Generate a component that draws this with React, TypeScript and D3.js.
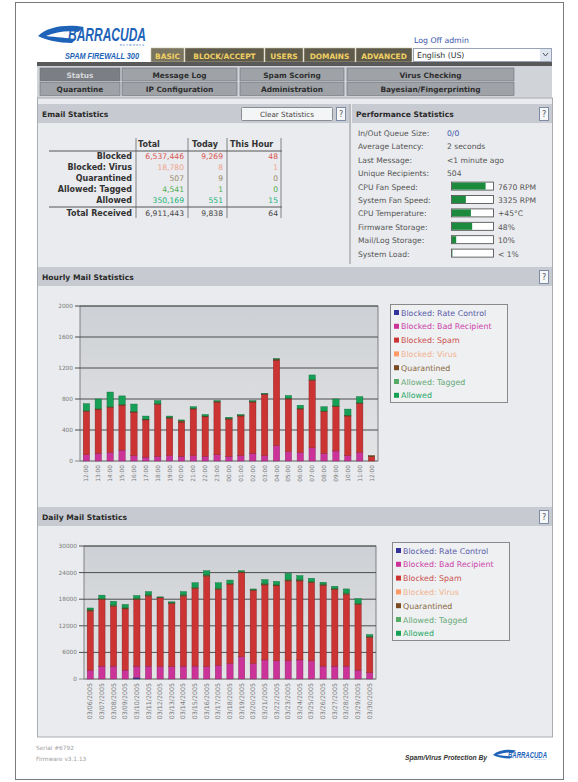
import * as d3 from 'd3'

const W = 578
const H = 782
const FONT = "'DejaVu Sans', Verdana, sans-serif"

// ---- top menus
const mainTabs = ['BASIC', 'BLOCK/ACCEPT', 'USERS', 'DOMAINS', 'ADVANCED']
const subTabsRow1 = ['Status', 'Message Log', 'Spam Scoring', 'Virus Checking']
const subTabsRow2 = ['Quarantine', 'IP Configuration', 'Administration', 'Bayesian/Fingerprinting']

// ---- email statistics table
const statColumns = ['Total', 'Today', 'This Hour']
const statRows = ['Blocked', 'Blocked: Virus', 'Quarantined', 'Allowed: Tagged', 'Allowed']
const statTotal = ['6,537,446', '18,780', '507', '4,541', '350,169']
const statToday = ['9,269', '8', '9', '1', '551']
const statHour = ['48', '1', '0', '0', '15']
const statReceived = ['6,911,443', '9,838', '64']
const statColors = ['#d9534f', '#f0a48e', '#9a8a66', '#4fae4f', '#22b377']

// ---- performance statistics
const perfLabels = ['In/Out Queue Size:', 'Average Latency:', 'Last Message:', 'Unique Recipients:']
const perfValues = ['0/0', '2 seconds', '<1 minute ago', '504']
const gaugeLabels = ['CPU Fan Speed:', 'System Fan Speed:', 'CPU Temperature:', 'Firmware Storage:', 'Mail/Log Storage:', 'System Load:']
const gaugeFill = [0.8, 0.33, 0.45, 0.48, 0.1, 0.01]
const gaugeText = ['7670 RPM', '3325 RPM', '+45\u00b0C', '48%', '10%', '< 1%']

// ---- legend
const seriesNames = ['Blocked: Rate Control', 'Blocked: Bad Recipient', 'Blocked: Spam', 'Blocked: Virus', 'Quarantined', 'Allowed: Tagged', 'Allowed']
const seriesColors = ['#333399', '#cc3399', '#cc3333', '#ff9966', '#7a4a22', '#55aa66', '#16a055']
const legendTextColors = ['#5a5aa8', '#cc44aa', '#cc5050', '#f2b290', '#8a6a40', '#66aa77', '#2aa866']

// ---- hourly mail statistics
const hourLabels = ['12:00', '13:00', '14:00', '15:00', '16:00', '17:00', '18:00', '19:00', '20:00', '21:00', '22:00', '23:00', '00:00', '01:00', '02:00', '03:00', '04:00', '05:00', '06:00', '07:00', '08:00', '09:00', '10:00', '11:00', '12:00']
const hourRate = [0, 0, 0, 0, 0, 0, 0, 0, 0, 0, 0, 0, 0, 0, 0, 0, 0, 0, 0, 0, 0, 0, 0, 0, 0]
const hourBadRcpt = [80, 100, 110, 140, 70, 50, 60, 70, 60, 70, 60, 80, 60, 70, 100, 70, 200, 120, 110, 170, 100, 130, 70, 110, 0]
const hourSpam = [560, 560, 580, 580, 560, 480, 670, 480, 440, 600, 510, 680, 480, 510, 660, 790, 1100, 680, 560, 870, 540, 570, 510, 630, 55]
const hourVirus = [0, 0, 0, 0, 0, 0, 0, 0, 0, 0, 0, 0, 0, 0, 0, 0, 0, 0, 0, 0, 0, 0, 0, 0, 0]
const hourQuar = [10, 15, 10, 10, 10, 10, 10, 15, 20, 10, 10, 10, 10, 10, 10, 5, 15, 10, 10, 10, 5, 10, 10, 10, 15]
const hourTagged = [0, 0, 0, 0, 0, 0, 0, 0, 0, 0, 0, 0, 0, 0, 0, 0, 0, 0, 0, 0, 0, 0, 0, 0, 0]
const hourAllowed = [90, 125, 190, 110, 95, 40, 40, 15, 10, 20, 20, 10, 15, 10, 10, 5, 5, 35, 40, 60, 55, 90, 80, 80, 0]
const hourTicks = [0, 400, 800, 1200, 1600, 2000]

// ---- daily mail statistics
const dayLabels = ['03/06/2005', '03/07/2005', '03/08/2005', '03/09/2005', '03/10/2005', '03/11/2005', '03/12/2005', '03/13/2005', '03/14/2005', '03/15/2005', '03/16/2005', '03/17/2005', '03/18/2005', '03/19/2005', '03/20/2005', '03/21/2005', '03/22/2005', '03/23/2005', '03/24/2005', '03/25/2005', '03/26/2005', '03/27/2005', '03/28/2005', '03/29/2005', '03/30/2005']
const dayRate = [0, 0, 0, 0, 300, 0, 0, 0, 0, 0, 0, 0, 0, 0, 0, 0, 0, 0, 0, 0, 0, 0, 0, 0, 0]
const dayBadRcpt = [2000, 2900, 2900, 2000, 2600, 2900, 2800, 2800, 2900, 2900, 2800, 3100, 3500, 5000, 3500, 4300, 4100, 4100, 4300, 4100, 2900, 2900, 2900, 2000, 1400]
const daySpam = [13300, 15000, 13500, 13800, 15000, 15800, 15500, 14200, 15800, 17500, 20400, 17100, 17800, 19000, 16500, 16900, 16900, 18000, 17800, 17600, 18200, 17300, 16200, 14800, 8000]
const dayVirus = [20, 15, 20, 15, 20, 15, 10, 10, 15, 20, 20, 15, 15, 10, 10, 15, 15, 20, 15, 15, 15, 15, 15, 15, 10]
const dayQuar = [250, 200, 200, 200, 200, 200, 150, 150, 200, 200, 200, 200, 200, 150, 150, 200, 200, 200, 200, 200, 250, 200, 200, 200, 150]
const dayTagged = [60, 80, 80, 70, 70, 80, 20, 30, 80, 90, 90, 100, 70, 30, 20, 90, 70, 120, 90, 70, 50, 50, 90, 90, 40]
const dayAllowed = [390, 720, 820, 730, 630, 720, 30, 220, 720, 1010, 910, 1200, 730, 220, 130, 910, 730, 1380, 910, 730, 400, 450, 910, 1010, 410]
const dayTicks = [0, 6000, 12000, 18000, 24000, 30000]

type Box = { left: number; right: number; top: number; bottom: number }

function HelpBox({ x, y }: { x: number; y: number }) {
  return (
    <g>
      <rect x={x + 0.5} y={y + 0.5} width={9} height={13} fill="#f6f7f8" stroke="#7d8ca3" />
      <text x={x + 5} y={y + 10} fontSize={8} fill="#556" textAnchor="middle">?</text>
    </g>
  )
}

function SectionHeader({ x, y, w, title }: { x: number; y: number; w: number; title: string }) {
  return (
    <g>
      <rect x={x} y={y} width={w} height={19} fill="#c7cad0" />
      <text x={x + 4} y={y + 13} fontSize={7.6} fontWeight="bold" fill="#2b2b2b">{title}</text>
      <HelpBox x={x + w - 13} y={y + 3} />
    </g>
  )
}

function StackChart({ labels, values, ticks, box, legendX, legendY, labelSize }: {
  labels: string[]; values: number[][]; ticks: number[]; box: Box; legendX: number; legendY: number; labelSize: number
}) {
  const x = d3.scaleBand<number>().domain(d3.range(labels.length)).range([box.left, box.right]).paddingInner(0.46).paddingOuter(0.27)
  const y = d3.scaleLinear().domain([0, d3.max(ticks) as number]).range([box.bottom, box.top])
  const keys = seriesNames.map((_, k) => 's' + k)
  const table = labels.map((_, i) => {
    const row: Record<string, number> = {}
    keys.forEach((key, k) => { row[key] = values[k][i] })
    return row
  })
  const layers = d3.stack<Record<string, number>>().keys(keys)(table)
  const gid = 'g' + Math.round(box.top)

  return (
    <g>
      <defs>
        <linearGradient id={gid} x1="0" y1="0" x2="0" y2="1">
          <stop offset="0" stopColor="#cdd0d4" />
          <stop offset="1" stopColor="#e3e4e6" />
        </linearGradient>
      </defs>
      <rect x={box.left} y={box.top} width={box.right - box.left} height={box.bottom - box.top} fill={`url(#${gid})`} stroke="#6a6a6a" strokeWidth={0.8} />
      {ticks.map(t => (
        <g key={t}>
          <line x1={box.left - 5} x2={box.right} y1={y(t)} y2={y(t)} stroke={t === 0 ? '#8a8a8a' : '#4d4d4d'} strokeWidth={1} />
          <text x={box.left - 7} y={y(t) + 2} fontSize={5.8} fill="#7a7a7a" textAnchor="end">{t}</text>
        </g>
      ))}
      {layers.map((layer, k) => (
        <g key={k} fill={seriesColors[k]} stroke={d3.color(seriesColors[k])!.darker(1.2).toString()} strokeWidth={0.4}>
          {layer.map((d, i) => d[1] - d[0] > 0 ? (
            <rect key={i} x={x(i)} width={x.bandwidth()} y={y(d[1])} height={y(d[0]) - y(d[1])} />
          ) : null)}
        </g>
      ))}
      {labels.map((l, i) => (
        <text key={i} transform={`translate(${(x(i) as number) + x.bandwidth() / 2 + 2},${box.bottom + 4}) rotate(-90)`}
          fontSize={labelSize} fill="#7a7a7a" textAnchor="end">{l}</text>
      ))}
      <rect x={legendX + 0.5} y={legendY + 0.5} width={117} height={98} fill="#eef0f2" stroke="#8a8a8a" />
      {seriesNames.map((n, k) => (
        <g key={n}>
          <rect x={legendX + 4} y={legendY + 6 + k * 13.8} width={5} height={5} fill={seriesColors[k]} />
          <text x={legendX + 11} y={legendY + 11.5 + k * 13.8} fontSize={7.9} fill={legendTextColors[k]}>{n}</text>
        </g>
      ))}
    </g>
  )
}

function Logo({ x, y, s }: { x: number; y: number; s: number }) {
  return (
    <g transform={`translate(${x},${y}) scale(${s})`}>
      <path d="M0,12 C10,2 30,0 46,3 L40,8 C30,6 18,8 8,12 C18,13 30,14 38,15 L34,19 C20,19 8,16 0,12 Z" fill="#1e63b8" />
      <text x={30} y={17} fontSize={19} fontWeight="bold" fontStyle="italic" fill="#1e63b8"
        fontFamily="'Liberation Sans Narrow', 'Liberation Sans', sans-serif" textLength={78} lengthAdjust="spacingAndGlyphs">BARRACUDA</text>
      <text x={82} y={21.5} fontSize={2.6} fill="#1e63b8" textLength={24} lengthAdjust="spacing">NETWORKS</text>
    </g>
  )
}

function Header() {
  const tabX = [151, 185, 265, 304, 356]
  const tabW = [33, 79, 38, 51, 56]
  const colX = [40, 122, 240, 347]
  const colW = [80, 115, 104, 167]
  return (
    <g>
      <Logo x={38} y={24} s={1} />
      <text x={65} y={59} fontSize={8.4} fontWeight="bold" fontStyle="italic" fill="#1e63b8"
        fontFamily="'Liberation Sans Narrow', 'Liberation Sans', sans-serif" textLength={74} lengthAdjust="spacingAndGlyphs">SPAM FIREWALL 300</text>
      <text x={414} y={43} fontSize={7.8} fill="#3a55a8">Log Off admin</text>
      {mainTabs.map((t, i) => (
        <g key={t}>
          <rect x={tabX[i]} y={48} width={tabW[i]} height={14} fill={i === 0 ? '#7a7560' : '#5f5b4a'} stroke="#c9c4a8" strokeWidth={0.6} />
          <text x={tabX[i] + tabW[i] / 2} y={58.5} fontSize={7.4} fontWeight="bold" fill="#f0cf62" textAnchor="middle">{t}</text>
        </g>
      ))}
      <rect x={413.5} y={48.5} width={138} height={13} fill="#fff" stroke="#9aa3b5" />
      <text x={417} y={58} fontSize={7.8} fill="#333">English (US)</text>
      <rect x={540} y={49} width={11} height={12} fill="#dfe5ef" />
      <path d="M543,53 l2.5,3 l2.5,-3" fill="none" stroke="#556" strokeWidth={1} />
      <rect x={37} y={62} width={515} height={4} fill="#595959" />
      <rect x={37} y={66} width={515} height={32} fill="#d0d3d7" />
      {[subTabsRow1, subTabsRow2].map((row, r) => row.map((t, i) => {
        const sel = r === 0 && i === 0
        return (
          <g key={t}>
            <rect x={colX[i]} y={68 + r * 14.5} width={colW[i]} height={13} fill={sel ? '#7b7f85' : '#9fa3a8'} stroke="#6d7075" strokeWidth={0.6} />
            <text x={colX[i] + colW[i] / 2} y={77.5 + r * 14.5} fontSize={7.4} fontWeight="bold" fill={sel ? '#d4d6d9' : '#2e2e2e'} textAnchor="middle">{t}</text>
          </g>
        )
      }))}
    </g>
  )
}

function EmailStats() {
  const colRight = [184, 223, 278]
  const rowY = (i: number) => 159 + i * 11
  return (
    <g>
      <SectionHeader x={38} y={104} w={311} title="Email Statistics" />
      <rect x={241.5} y={107.5} width={91} height={13} rx={1} fill="#f4f5f6" stroke="#8a8d92" />
      <text x={287} y={117} fontSize={7.2} fill="#444" textAnchor="middle">Clear Statistics</text>
      {statColumns.map((c, j) => (
        <text key={c} x={[138, 192, 230][j]} y={147} fontSize={8} fontWeight="bold" fill="#333">{c}</text>
      ))}
      <line x1={49} x2={282} y1={151} y2={151} stroke="#555" strokeWidth={1} />
      <line x1={49} x2={282} y1={207} y2={207} stroke="#555" strokeWidth={1} />
      {[136, 188, 227, 281].map(v => (
        <line key={v} x1={v} x2={v} y1={138} y2={218} stroke="#666" strokeWidth={0.8} />
      ))}
      {statRows.map((r, i) => (
        <g key={r}>
          <text x={132} y={rowY(i)} fontSize={8} fontWeight="bold" fill="#333" textAnchor="end">{r}</text>
          {[statTotal, statToday, statHour].map((col, j) => (
            <text key={j} x={colRight[j]} y={rowY(i)} fontSize={7.6} fill={statColors[i]} textAnchor="end">{col[i]}</text>
          ))}
        </g>
      ))}
      <text x={132} y={216} fontSize={8} fontWeight="bold" fill="#333" textAnchor="end">Total Received</text>
      {statReceived.map((v, j) => (
        <text key={j} x={colRight[j]} y={216} fontSize={7.6} fill="#444" textAnchor="end">{v}</text>
      ))}
    </g>
  )
}

function PerfStats() {
  const gauge = d3.scaleLinear().domain([0, 1]).range([0, 42])
  const rowY = (i: number) => 136 + i * 13.4
  return (
    <g>
      <line x1={350} x2={350} y1={104} y2={264} stroke="#8a8d92" strokeWidth={1} />
      <SectionHeader x={352} y={104} w={200} title="Performance Statistics" />
      {perfLabels.map((l, i) => (
        <g key={l}>
          <text x={358} y={rowY(i)} fontSize={7.6} fill="#555">{l}</text>
          <text x={447} y={rowY(i)} fontSize={7.6} fill={i === 0 ? '#3a55a8' : '#555'}>{perfValues[i]}</text>
        </g>
      ))}
      {gaugeLabels.map((l, i) => {
        const yy = rowY(i + 4)
        return (
          <g key={l}>
            <text x={358} y={yy} fontSize={7.6} fill="#555">{l}</text>
            <rect x={451.5} y={yy - 7.5} width={42} height={8} fill="#fff" stroke="#444" strokeWidth={0.8} />
            <rect x={452} y={yy - 7} width={gauge(gaugeFill[i])} height={7} fill="#1c8a3c" />
            <text x={498} y={yy} fontSize={7.6} fill="#555">{gaugeText[i]}</text>
          </g>
        )
      })}
    </g>
  )
}

export default function App() {
  const hourly = [hourRate, hourBadRcpt, hourSpam, hourVirus, hourQuar, hourTagged, hourAllowed]
  const daily = [dayRate, dayBadRcpt, daySpam, dayVirus, dayQuar, dayTagged, dayAllowed]
  return (
    <svg width={W} height={H} style={{ position: 'absolute', left: 0, top: 0, background: '#fff' }} fontFamily={FONT}>
      <rect x={15.5} y={2.5} width={548} height={777} fill="#fff" stroke="#7a7a7a" />
      <Header />
      <rect x={37.5} y={98} width={515} height={639} fill="#e9ebee" stroke="#a9acb1" />
      <EmailStats />
      <PerfStats />
      <SectionHeader x={38} y={267} w={514} title="Hourly Mail Statistics" />
      <StackChart labels={hourLabels} values={hourly} ticks={hourTicks}
        box={{ left: 80, right: 378, top: 306, bottom: 461 }} legendX={390} legendY={304} labelSize={5.8} />
      <SectionHeader x={38} y={507} w={514} title="Daily Mail Statistics" />
      <StackChart labels={dayLabels} values={daily} ticks={dayTicks}
        box={{ left: 84, right: 376, top: 546, bottom: 679 }} legendX={392} legendY={542} labelSize={6.3} />
      <text x={36} y={750} fontSize={5.8} fill="#a0a0a0">Serial #6792</text>
      <text x={36} y={761} fontSize={5.8} fill="#a0a0a0">Firmware v3.1.13</text>
      <text x={405} y={760} fontSize={7.2} fontWeight="bold" fontStyle="italic" fill="#333"
        fontFamily="'Liberation Sans Narrow', 'Liberation Sans', sans-serif" textLength={82} lengthAdjust="spacingAndGlyphs">Spam/Virus Protection By</text>
      <Logo x={493} y={749} s={0.5} />
    </svg>
  )
}
